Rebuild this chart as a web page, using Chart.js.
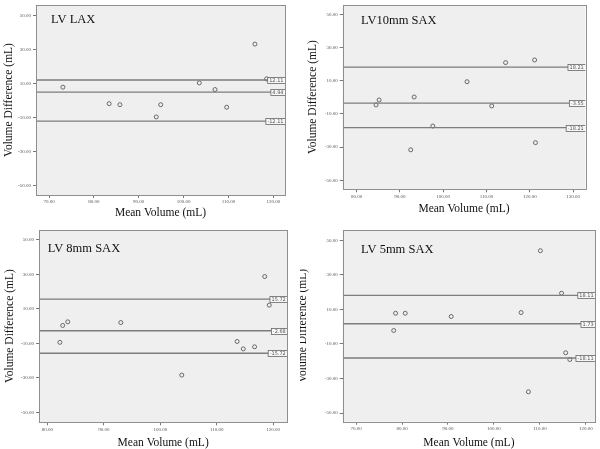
<!DOCTYPE html>
<html>
<head>
<meta charset="utf-8">
<script src="https://cdn.jsdelivr.net/npm/chart.js@4.4.0/dist/chart.umd.min.js"></script>
<style>
  html, body { margin: 0; padding: 0; background: #fff; overflow: hidden; width: 600px; height: 449px; }
  .panel { position: absolute; overflow: hidden; }
  .panel canvas { position: absolute; }
</style>
</head>
<body>
<div class="panel" style="left:0;top:0;width:300px;height:225px">
  <canvas id="chart-lax" width="300" height="225" style="left:0;top:0"></canvas>
</div>
<div class="panel" style="left:300px;top:0;width:300px;height:225px">
  <canvas id="chart-10mm" width="300" height="225" style="left:0;top:0"></canvas>
</div>
<div class="panel" style="left:0;top:225px;width:300px;height:224px">
  <canvas id="chart-8mm" width="300" height="227" style="left:0;top:0"></canvas>
</div>
<div class="panel" style="left:300px;top:225px;width:300px;height:224px">
  <canvas id="chart-5mm" width="304" height="227" style="left:-4px;top:0"></canvas>
</div>
<script>
// tick labels
const diffTicks = [-50, -30, -10, 10, 30, 50]
const meanTicks70 = [70, 80, 90, 100, 110, 120]
const meanTicks80to130 = [80, 90, 100, 110, 120, 130]
const meanTicks80to120 = [80, 90, 100, 110, 120]

// LV LAX
const laxMean = [73.1, 83.4, 85.8, 93.9, 94.9, 103.5, 107.0, 109.6, 115.9, 118.5]
const laxDiff = [7.9, -1.8, -2.4, -9.6, -2.4, 10.4, 6.5, -3.9, 33.2, 12.8]
const laxLines = [12.11, 4.94, -12.11]
const laxLineLabels = ['12.11', '4.94', '-12.11']

// LV10mm SAX
const sax10Mean = [84.5, 85.2, 92.5, 93.3, 97.6, 105.5, 111.2, 114.4, 121.1, 121.3]
const sax10Diff = [-4.6, -1.6, -31.6, 0.2, -17.3, 9.4, -5.2, 20.9, 22.5, -27.3]
const sax10Lines = [18.21, -3.55, -18.21]
const sax10LineLabels = ['18.21', '-3.55', '-18.21']

// LV 8mm SAX
const sax8Mean = [82.2, 82.7, 83.6, 93.0, 103.8, 113.6, 114.7, 116.7, 118.5, 119.3]
const sax8Diff = [-9.4, 0.4, 2.5, 2.1, -28.4, -8.9, -13.2, -12.0, 28.8, 12.2]
const sax8Lines = [15.72, -2.68, -15.72]
const sax8LineLabels = ['15.72', '-2.68', '-15.72']

// LV 5mm SAX
const sax5Mean = [78.2, 78.6, 80.7, 90.7, 105.9, 107.5, 110.1, 114.7, 115.6, 116.5]
const sax5Diff = [-2.2, 7.8, 7.8, 5.9, 8.2, -37.7, 44.0, 19.4, -15.1, -19.0]
const sax5Lines = [18.11, 1.73, -18.11]
const sax5LineLabels = ['18.11', '1.73', '-18.11']

const SERIF = '"Liberation Serif", "DejaVu Serif", serif'

const plotBackground = {
  id: 'plotBackground',
  beforeDraw(chart) {
    const { ctx, chartArea: a } = chart
    ctx.save()
    ctx.fillStyle = '#efefef'
    ctx.fillRect(a.left, a.top, a.right - a.left, a.bottom - a.top)
    ctx.restore()
  },
  afterDraw(chart) {
    const { ctx, chartArea: a } = chart
    ctx.save()
    ctx.strokeStyle = '#8f8f8f'
    ctx.lineWidth = 1
    ctx.strokeRect(Math.round(a.left) + 0.5, Math.round(a.top) + 0.5,
      Math.round(a.right - a.left), Math.round(a.bottom - a.top))
    ctx.restore()
  },
}

const refLabels = {
  id: 'refLabels',
  afterDatasetsDraw(chart, args, opts) {
    const { ctx, chartArea: a, scales } = chart
    ctx.save()
    ctx.beginPath()
    ctx.rect(a.left, a.top, a.right - a.left, a.bottom - a.top)
    ctx.clip()
    ctx.font = '5px "DejaVu Sans", sans-serif'
    ctx.textBaseline = 'middle'
    opts.values.forEach((v, i) => {
      const y = Math.round(scales.y.getPixelForValue(v)) + 0.5
      const text = opts.labels[i]
      const w = ctx.measureText(text).width + 4
      const x = a.right - w + 1
      ctx.fillStyle = '#f7f7f7'
      ctx.fillRect(x, y - 3, w, 6)
      ctx.strokeStyle = '#666'
      ctx.lineWidth = 0.8
      ctx.strokeRect(x, y - 3, w, 6)
      ctx.fillStyle = '#555'
      ctx.fillText(text, x + 1.5, y + 0.3)
    })
    ctx.restore()
  },
}

const panelTitle = {
  id: 'panelTitle',
  afterDraw(chart, args, opts) {
    const { ctx, chartArea: a } = chart
    ctx.save()
    ctx.font = '12.5px ' + SERIF
    ctx.fillStyle = '#111'
    ctx.textBaseline = 'middle'
    ctx.fillText(opts.text, a.left + opts.dx, a.top + opts.dy)
    ctx.restore()
  },
}

function makePanel(id, p) {
  const refSets = p.lines.map(v => ({
    type: 'line',
    data: [{ x: p.xMin, y: v }, { x: p.xMax, y: v }],
    borderColor: '#7d7d7d',
    borderWidth: 1.3,
    pointRadius: 0,
    showLine: true,
  }))

  const points = p.mean.map((m, i) => ({ x: m, y: p.diff[i] }))

  return new Chart(document.getElementById(id), {
    type: 'scatter',
    data: {
      datasets: [
        ...refSets,
        {
          data: points,
          pointRadius: 2,
          pointBorderWidth: 0.9,
          pointBorderColor: '#5a5a5a',
          pointBackgroundColor: 'rgba(0,0,0,0)',
        },
      ],
    },
    options: {
      responsive: false,
      animation: false,
      events: [],
      layout: { padding: { left: 0, top: p.padTop, right: p.padRight, bottom: 0 } },
      scales: {
        x: {
          type: 'linear',
          min: p.xMin,
          max: p.xMax,
          afterBuildTicks: s => { s.ticks = p.xTicks.map(v => ({ value: v })) },
          afterFit: s => { s.height = p.xAxisHeight },
          grid: { drawOnChartArea: false, tickLength: 3, color: '#777' },
          border: { display: false },
          ticks: {
            autoSkip: false,
            maxRotation: 0,
            padding: 1,
            color: '#555',
            font: { family: SERIF, size: 5 },
            callback: v => v.toFixed(2),
          },
          title: {
            display: true,
            text: 'Mean Volume (mL)',
            color: '#111',
            font: { family: SERIF, size: 11.5 },
            padding: { top: 0, bottom: p.xTitlePad },
          },
        },
        y: {
          type: 'linear',
          min: p.yMin,
          max: p.yMax,
          afterBuildTicks: s => { s.ticks = diffTicks.map(v => ({ value: v })) },
          afterFit: s => { s.width = p.yAxisWidth },
          grid: { drawOnChartArea: false, tickLength: 3, color: '#777' },
          border: { display: false },
          ticks: {
            autoSkip: false,
            padding: 2,
            color: '#555',
            font: { family: SERIF, size: 5 },
            callback: v => v.toFixed(2),
          },
          title: {
            display: true,
            text: 'Volume Difference (mL)',
            color: '#111',
            font: { family: SERIF, size: 11.5 },
            padding: { top: p.yTitlePad, bottom: 0 },
          },
        },
      },
      plugins: {
        legend: { display: false },
        tooltip: { enabled: false },
        refLabels: { values: p.lines, labels: p.lineLabels },
        panelTitle: { text: p.title, dx: p.titleDx, dy: p.titleDy },
      },
    },
    plugins: [plotBackground, refLabels, panelTitle],
  })
}

makePanel('chart-lax', {
  title: 'LV LAX', titleDx: 15, titleDy: 15,
  mean: laxMean, diff: laxDiff, lines: laxLines, lineLabels: laxLineLabels,
  xMin: 67.1, xMax: 122.6, yMin: -55.5, yMax: 56.2, xTicks: meanTicks70,
  yAxisWidth: 36, xAxisHeight: 30, padTop: 5, padRight: 15,
  yTitlePad: 1.6, xTitlePad: 5.1,
})

makePanel('chart-10mm', {
  title: 'LV10mm SAX', titleDx: 18.3, titleDy: 15.7,
  mean: sax10Mean, diff: sax10Diff, lines: sax10Lines, lineLabels: sax10LineLabels,
  xMin: 76.8, xMax: 132.8, yMin: -55.4, yMax: 55.6, xTicks: meanTicks80to130,
  yAxisWidth: 42.7, xAxisHeight: 35.7, padTop: 5, padRight: 14.7,
  yTitlePad: 5.6, xTitlePad: 9.6,
})

makePanel('chart-8mm', {
  title: 'LV 8mm SAX', titleDx: 8.7, titleDy: 18.6,
  mean: sax8Mean, diff: sax8Diff, lines: sax8Lines, lineLabels: sax8LineLabels,
  xMin: 78.5, xMax: 122.5, yMin: -55.8, yMax: 55.8, xTicks: meanTicks80to120,
  yAxisWidth: 39, xAxisHeight: 29.7, padTop: 4.7, padRight: 12.7,
  yTitlePad: 2.6, xTitlePad: 1.8,
})

makePanel('chart-5mm', {
  title: 'LV 5mm SAX', titleDx: 18.3, titleDy: 19.3,
  mean: sax5Mean, diff: sax5Diff, lines: sax5Lines, lineLabels: sax5LineLabels,
  xMin: 67.1, xMax: 122.0, yMin: -55, yMax: 56, xTicks: meanTicks70,
  yAxisWidth: 46.7, xAxisHeight: 30.3, padTop: 4.7, padRight: 3.3,
  yTitlePad: 0.1, xTitlePad: 2.1,
})
</script>
</body>
</html>
